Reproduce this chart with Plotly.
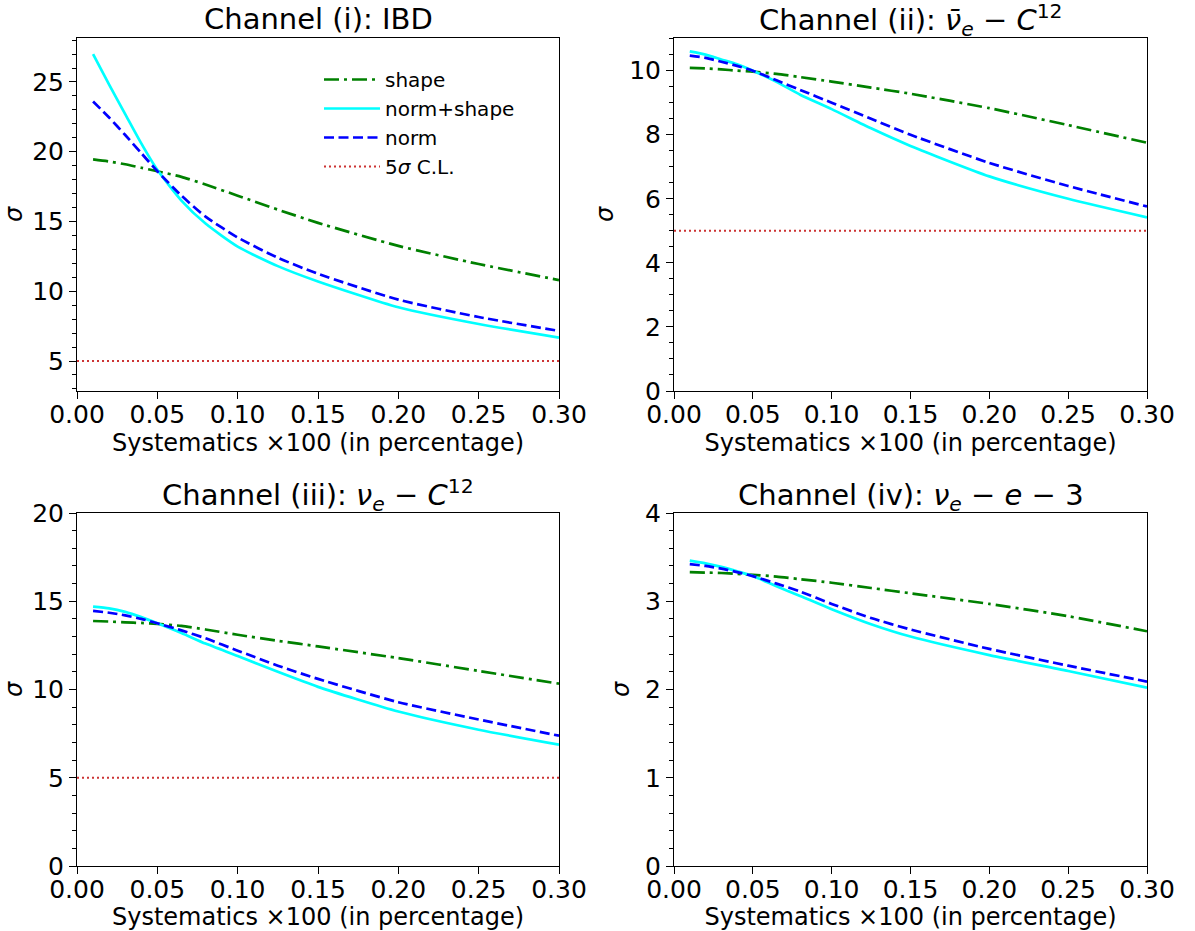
import plotly.graph_objects as go

# ---------------- data ----------------
systematics = [0.01, 0.02, 0.03, 0.04, 0.05, 0.065, 0.08, 0.10, 0.125, 0.15, 0.20, 0.25, 0.30]
cl_x = [0.0, 0.30]
cl_level = [5, 5]

ibd_shape = [19.45, 19.3, 19.1, 18.85, 18.6, 18.2, 17.65, 16.85, 15.85, 14.9, 13.25, 11.95, 10.8]
ibd_normshape = [27.0, 24.8, 22.7, 20.6, 18.7, 16.5, 14.85, 13.2, 11.8, 10.7, 8.85, 7.65, 6.68]
ibd_norm = [23.6, 22.45, 21.2, 19.9, 18.6, 16.85, 15.35, 13.85, 12.4, 11.25, 9.4, 8.15, 7.16]

nuebar_shape = [10.09, 10.07, 10.04, 10.0, 9.97, 9.9, 9.8, 9.66, 9.47, 9.28, 8.83, 8.3, 7.75]
nuebar_normshape = [10.6, 10.5, 10.35, 10.2, 10.0, 9.65, 9.25, 8.8, 8.2, 7.65, 6.7, 6.0, 5.42]
nuebar_norm = [10.47, 10.4, 10.28, 10.15, 10.0, 9.7, 9.4, 9.0, 8.5, 8.0, 7.12, 6.4, 5.76]

nue_c_shape = [13.88, 13.85, 13.8, 13.77, 13.72, 13.6, 13.4, 13.1, 12.76, 12.44, 11.78, 11.05, 10.33]
nue_c_normshape = [14.7, 14.6, 14.4, 14.1, 13.75, 13.2, 12.6, 11.9, 11.0, 10.15, 8.75, 7.72, 6.87]
nue_c_norm = [14.45, 14.35, 14.2, 14.0, 13.75, 13.35, 12.9, 12.2, 11.35, 10.6, 9.28, 8.3, 7.38]

nue_e_shape = [3.33, 3.325, 3.32, 3.31, 3.30, 3.28, 3.25, 3.21, 3.15, 3.09, 2.97, 2.83, 2.66]
nue_e_normshape = [3.46, 3.43, 3.39, 3.34, 3.285, 3.17, 3.06, 2.91, 2.74, 2.6, 2.39, 2.21, 2.02]
nue_e_norm = [3.42, 3.40, 3.37, 3.33, 3.285, 3.2, 3.11, 2.97, 2.81, 2.68, 2.46, 2.27, 2.09]

titles = [
    "Channel (i): IBD",
    "Channel (ii): <i>ν̄</i><sub><i>e</i></sub> − <i>C</i><sup>12</sup>",
    "Channel (iii): <i>ν</i><sub><i>e</i></sub> − <i>C</i><sup>12</sup>",
    "Channel (iv): <i>ν</i><sub><i>e</i></sub> − <i>e</i> − 3",
]
series_names = ["shape", "norm+shape", "norm", "5<i>σ</i> C.L."]
x_ticks = [0.0, 0.05, 0.10, 0.15, 0.20, 0.25, 0.30]
x_ticklabels = ["0.00", "0.05", "0.10", "0.15", "0.20", "0.25", "0.30"]

panels = [
    dict(shape=ibd_shape, ns=ibd_normshape, norm=ibd_norm, cl=True,
         yrange=[2.85, 28.15], dtick=5, minor=1),
    dict(shape=nuebar_shape, ns=nuebar_normshape, norm=nuebar_norm, cl=True,
         yrange=[0, 11.02], dtick=2, minor=0.5),
    dict(shape=nue_c_shape, ns=nue_c_normshape, norm=nue_c_norm, cl=True,
         yrange=[0, 20], dtick=5, minor=1),
    dict(shape=nue_e_shape, ns=nue_e_normshape, norm=nue_e_norm, cl=False,
         yrange=[0, 4], dtick=1, minor=0.2),
]
# per-title vertical nudge (px), plain titles vs. titles with sub/superscripts
title_shift = [0, -5, -5, -5]

# ---------------- layout geometry ----------------
W, H = 1195, 931
xdoms = [[77 / W, 559 / W], [674 / W, 1147 / W]]
ydoms = [[1 - 391 / H, 1 - 38 / H], [1 - 866 / H, 1 - 513 / H]]

FONT = "DejaVu Sans"
fig = go.Figure()

for i, p in enumerate(panels):
    r, c = divmod(i, 2)
    xa = "x" if i == 0 else f"x{i+1}"
    ya = "y" if i == 0 else f"y{i+1}"
    show = (i == 0)
    fig.add_trace(go.Scatter(x=systematics, y=p["shape"], mode="lines", name=series_names[0],
                             line=dict(color="#008000", width=2.7, dash="15px,5px,3px,5px",
                                       shape="spline", smoothing=0.6),
                             xaxis=xa, yaxis=ya, showlegend=show))
    fig.add_trace(go.Scatter(x=systematics, y=p["ns"], mode="lines", name=series_names[1],
                             line=dict(color="#00ffff", width=2.7, shape="spline", smoothing=0.6),
                             xaxis=xa, yaxis=ya, showlegend=show))
    fig.add_trace(go.Scatter(x=systematics, y=p["norm"], mode="lines", name=series_names[2],
                             line=dict(color="#0000ff", width=2.7, dash="10px,4.5px",
                                       shape="spline", smoothing=0.6),
                             xaxis=xa, yaxis=ya, showlegend=show))
    fig.add_trace(go.Scatter(x=cl_x, y=cl_level, mode="lines", name=series_names[3],
                             line=dict(color="#cc3333", width=2, dash="2px,3px"),
                             xaxis=xa, yaxis=ya, showlegend=show, visible=True if p["cl"] else False))

    xkey = "xaxis" if i == 0 else f"xaxis{i+1}"
    ykey = "yaxis" if i == 0 else f"yaxis{i+1}"
    fig.layout[xkey] = dict(
        domain=xdoms[c], anchor=ya, range=[0, 0.30], automargin=False,
        tickvals=x_ticks, ticktext=x_ticklabels,
        ticks="outside", ticklen=7, tickwidth=1, tickcolor="black",
        ticklabelstandoff=-6,
        showline=True, linecolor="black", linewidth=1, mirror=True,
        showgrid=False, zeroline=False,
        tickfont=dict(family=FONT, size=25, color="black"),
        title=dict(text="Systematics ×100 (in percentage)", standoff=2,
                   font=dict(family=FONT, size=24, color="black")),
    )
    fig.layout[ykey] = dict(
        domain=ydoms[r], anchor=xa, range=p["yrange"], automargin=False,
        dtick=p["dtick"], tick0=0,
        ticks="outside", ticklen=7, tickwidth=1, tickcolor="black",
        minor=dict(dtick=p["minor"], tick0=0, ticks="outside", ticklen=4, tickcolor="black", showgrid=False),
        showline=True, linecolor="black", linewidth=1, mirror=True,
        showgrid=False, zeroline=False,
        tickfont=dict(family=FONT, size=25, color="black"),
        title=dict(text="<i>σ</i>", standoff=8, font=dict(family=FONT, size=24, color="black")),
    )
    fig.add_annotation(text=titles[i], xref="paper", yref="paper",
                       x=(xdoms[c][0] + xdoms[c][1]) / 2, y=ydoms[r][1],
                       xanchor="center", yanchor="bottom", yshift=title_shift[i], showarrow=False,
                       font=dict(family=FONT, size=29, color="black"))

fig.update_layout(
    width=W, height=H, margin=dict(l=0, r=0, t=0, b=0, autoexpand=False),
    paper_bgcolor="white", plot_bgcolor="white",
    font=dict(family=FONT, color="black"),
    legend=dict(x=319 / W, y=1 - 60 / H, xanchor="left", yanchor="top",
                bgcolor="rgba(0,0,0,0)", borderwidth=0,
                font=dict(family=FONT, size=20, color="black"), itemwidth=56),
)

fig.write_html("out.html")
